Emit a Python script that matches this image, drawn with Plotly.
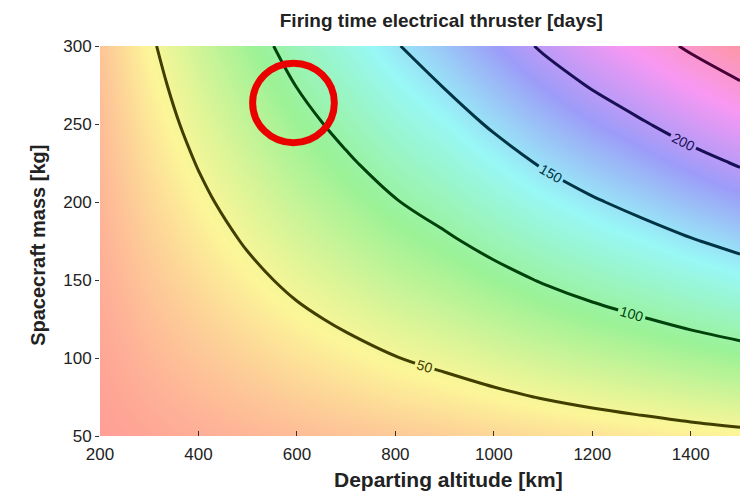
import plotly.graph_objects as go

# Departing altitude [km]
altitude = [200, 300, 400, 500, 600, 700, 800, 900, 1000, 1100, 1200, 1300, 1400, 1500]
# Spacecraft mass [kg]
mass = [50, 75, 100, 125, 150, 175, 200, 225, 250, 275, 300]
# Firing time [days] (rows = mass, cols = altitude)
firing_time = [
    [3.8, 7.8, 11.4, 14.9, 18.3, 21.5, 24.7, 27.5, 30.7, 33.9, 36.8, 39.5, 42.4, 45.0],
    [5.6, 11.7, 17.0, 22.3, 27.5, 32.2, 37.1, 41.3, 46.1, 50.9, 55.2, 59.3, 63.5, 67.5],
    [7.5, 15.6, 22.7, 29.7, 36.6, 42.9, 49.4, 55.0, 61.4, 67.8, 73.6, 79.0, 84.7, 90.0],
    [9.4, 19.5, 28.4, 37.1, 45.8, 53.6, 61.8, 68.8, 76.8, 84.8, 92.0, 98.8, 105.9, 112.5],
    [11.3, 23.4, 34.1, 44.6, 54.9, 64.4, 74.1, 82.5, 92.1, 101.7, 110.4, 118.5, 127.1, 135.0],
    [13.1, 27.3, 39.7, 52.0, 64.1, 75.1, 86.5, 96.3, 107.5, 118.7, 128.8, 138.3, 148.2, 157.5],
    [15.0, 31.2, 45.4, 59.4, 73.2, 85.8, 98.8, 110.0, 122.8, 135.6, 147.2, 158.0, 169.4, 180.0],
    [16.9, 35.1, 51.1, 66.8, 82.4, 96.5, 111.2, 123.8, 138.2, 152.6, 165.6, 177.8, 190.6, 202.5],
    [18.8, 39.0, 56.8, 74.3, 91.5, 107.3, 123.5, 137.5, 153.5, 169.5, 184.0, 197.5, 211.8, 225.0],
    [20.6, 42.9, 62.4, 81.7, 100.7, 118.0, 135.9, 151.3, 168.9, 186.5, 202.4, 217.3, 232.9, 247.5],
    [22.5, 46.8, 68.1, 89.1, 109.8, 128.7, 148.2, 165.0, 184.2, 203.4, 220.8, 237.0, 254.1, 270.0],
]
x_ticks = [200, 400, 600, 800, 1000, 1200, 1400]
y_ticks = [50, 100, 150, 200, 250, 300]

Z_MIN, Z_MAX = 0, 278
LEVEL_START, LEVEL_END, LEVEL_STEP = 50, 250, 50

pastel_hsv = [
    [0.0, "rgb(255,150,150)"],
    [1 / 6, "rgb(252,246,152)"],
    [2 / 6, "rgb(155,242,150)"],
    [3 / 6, "rgb(152,248,246)"],
    [4 / 6, "rgb(156,156,248)"],
    [5 / 6, "rgb(248,152,243)"],
    [1.0, "rgb(255,150,150)"],
]
# line colours for the contour levels 50 .. 250
dark_lines = [
    [0.0, "rgb(66,62,0)"],
    [0.25, "rgb(0,66,12)"],
    [0.5, "rgb(0,52,68)"],
    [0.75, "rgb(25,15,85)"],
    [1.0, "rgb(70,0,55)"],
]

FONT = "Liberation Sans, Arial, sans-serif"

fig = go.Figure()
fig.add_trace(go.Heatmap(
    x=altitude, y=mass, z=firing_time,
    zmin=Z_MIN, zmax=Z_MAX, colorscale=pastel_hsv,
    zsmooth="best", showscale=False, hoverinfo="skip",
))
fig.add_trace(go.Contour(
    x=altitude, y=mass, z=firing_time,
    colorscale=dark_lines,
    autocontour=False,
    contours=dict(start=LEVEL_START, end=LEVEL_END, size=LEVEL_STEP,
                  coloring="lines", showlabels=True,
                  labelfont=dict(family=FONT, size=14)),
    line=dict(width=3),
    showscale=False,
))

# red highlight circle around the "100" label
fig.add_shape(type="circle", xref="x", yref="y",
              x0=510, x1=676, y0=238, y1=289,
              line=dict(color="rgb(235,0,0)", width=7))

# axis titles as annotations (placed like the reference)
fig.add_annotation(text="<b>Departing altitude [km]</b>", xref="paper", yref="paper",
                   x=0.544, y=-0.112, xanchor="center", yanchor="middle",
                   showarrow=False, font=dict(family=FONT, size=21, color="#222"))
fig.add_annotation(text="<b>Spacecraft mass [kg]</b>", xref="paper", yref="paper",
                   x=-0.097, y=0.49, xanchor="center", yanchor="middle", textangle=-90,
                   showarrow=False, font=dict(family=FONT, size=20, color="#222"))

fig.update_layout(
    width=748, height=499,
    margin=dict(l=100, r=8, t=46, b=63),
    paper_bgcolor="white", plot_bgcolor="white",
    font=dict(family=FONT, size=17, color="#222"),
    title=dict(text="<b>Firing time electrical thruster [days]</b>",
               x=0.59, xanchor="center", y=0.96, yanchor="middle",
               font=dict(family=FONT, size=19, color="#222")),
    showlegend=False,
)
fig.update_xaxes(
    range=[200, 1500], tickvals=x_ticks, ticks="inside", ticklen=5,
    tickcolor="#333", showgrid=False, zeroline=False, showline=False,
    tickfont=dict(size=17), ticklabelstandoff=6,
)
fig.update_yaxes(
    range=[50, 300], tickvals=y_ticks, ticks="outside", ticklen=4,
    tickcolor="#333", showgrid=False, zeroline=False, showline=False,
    tickfont=dict(size=17),
)

fig.write_html("out.html")
